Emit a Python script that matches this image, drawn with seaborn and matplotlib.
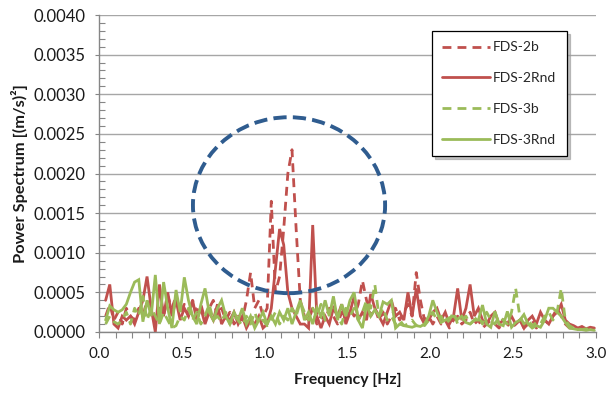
import numpy as np
import pandas as pd
import matplotlib
matplotlib.use("Agg")
import matplotlib.pyplot as plt
from matplotlib.patches import Ellipse
from matplotlib.ticker import MultipleLocator, FormatStrFormatter
import seaborn as sns

# ---------------- data (power spectrum values in units of 1e-4 (m/s)^2) ----------------
freq_start, freq_step, n_bins = 0.04, 0.025, 119
frequency = np.round(freq_start + freq_step * np.arange(n_bins), 3)

fds_2b = [
    2, 3.5, 1.5, 2.5, 1, 3, 2, 1.5, 3, 2,
    4, 2.5, 1.5, 3, 2, 4.5, 3, 4.5, 2.5, 3.5,
    2, 4, 2.5, 3.5, 1.5, 3, 4, 2, 3, 1.5,
    2.5, 1, 2, 1.5, 4, 7.5, 3, 4, 2, 3,
    16.5, 5, 7, 13, 20, 23, 13, 4, 2, 1.5,
    3, 1, 2, 1.5, 3, 2, 1, 2.5, 1.5, 3,
    2, 3.5, 6.5, 4, 2, 3, 1.5, 2.5, 1, 2,
    3, 1.5, 2.5, 3.5, 2, 7.5, 4, 1.5, 2, 1,
    2, 1, 1.5, 0.5, 1.5, 2, 1, 1.5, 2.5, 1,
    1.5, 0.5, 1, 1.5, 1, 0.5, 1.5, 1, 0.5, 1,
    1.5, 0.5, 1, 1.5, 0.5, 1, 1.5, 1, 2, 3,
    2, 1, 0.5, 0.5, 0.3, 0.5, 0.3, 0.4, 0.3,
]
fds_2rnd = [
    4, 6, 1, 0.5, 2, 1.5, 2, 1, 2.5, 4,
    7, 3, 0, 6, 2, 5, 2, 4, 1.5, 3,
    2, 4, 1.5, 3, 1, 2.5, 1.5, 3.5, 1, 2,
    1.5, 2.5, 1, 2, 0.5, 1.5, 1, 2, 0.5, 1,
    3, 8, 13, 11, 5, 3, 2, 1, 1, 0.5,
    13.5, 2, 0.5, 2, 1, 3, 2, 3.5, 1, 2.5,
    4.5, 1.5, 2.5, 1.5, 4.8, 3, 2, 1, 2.5, 4,
    2, 2.5, 1.5, 5, 2, 5.5, 2, 1, 1.5, 2.5,
    3, 1.5, 2.5, 1, 2, 5.5, 1.5, 3, 6, 2,
    3, 1.5, 1, 2, 2.5, 1, 1.5, 1, 2, 1,
    1.5, 0.5, 1.5, 2, 1, 2.5, 1.5, 1, 2, 2.5,
    3.5, 1.5, 1, 0.8, 0.5, 0.7, 0.4, 0.6, 0.5,
]
fds_3b = [
    1, 2, 1.3, 1, 1.5, 2.5, 1, 3, 2, 4.5,
    1.5, 3, 2, 1, 2.5, 1.5, 0.5, 0.8, 2, 1.5,
    3, 1.5, 2.5, 1, 2, 3.5, 1.5, 2, 1.3, 2.5,
    1, 2, 1.5, 0.8, 2, 1, 2.5, 1, 1.5, 0.8,
    1.5, 2.5, 1, 2, 1.5, 3, 2, 3.8, 2.5, 1.5,
    3, 2, 3.5, 1.5, 2.5, 3.5, 2, 1, 3, 2,
    3, 1.5, 2.5, 4, 3, 6, 2, 3, 1.5, 2,
    1, 1.5, 0.8, 1, 1.5, 0.8, 1.2, 0.8, 1.5, 2.5,
    1.5, 2, 1, 1.5, 2.5, 1, 1.5, 2, 1, 1.5,
    2, 1, 2.5, 1.5, 1, 2, 1.5, 1, 2.5, 5.5,
    2, 1, 1.5, 0.8, 1.2, 1, 2, 2.5, 1.5, 2.5,
    5.5, 1.5, 0.8, 0.5, 0.4, 0.3, 0.4, 0.3, 0.3,
]
fds_3rnd = [
    1.5, 3.3, 2.8, 2.5, 2.8, 3.5, 5, 6.3, 6.6, 1.3,
    4, 2, 7.2, 1, 6.3, 3, 0.5, 5.3, 2.5, 6.9,
    4, 2, 1, 3.5, 5.5, 2.5, 1.5, 3, 4, 2,
    1, 2.5, 1.5, 3, 1, 2, 0.5, 1.5, 2.5, 1,
    2, 1, 2.5, 1.5, 3, 1, 2.5, 4, 1.5, 2.5,
    1, 3, 2, 4, 2, 4.5, 1.5, 3.5, 2, 4,
    5, 1.5, 0.5, 3.5, 2, 2.8, 2, 3.8, 3.5, 4,
    0.5, 1, 0.8, 0.7, 0.6, 0.8, 0.7, 1, 2, 4,
    2.5, 1.2, 1.5, 1.8, 2, 1.6, 2, 1.2, 1, 1.5,
    1.5, 3.4, 1, 0.6, 2.6, 1, 0.8, 2.6, 0.6, 1.2,
    1.5, 2.2, 1, 0.5, 0.8, 0.6, 1.5, 3, 3, 2.5,
    2, 1.2, 0.5, 0.4, 0.3, 0.3, 0.2, 0.3, 0.2,
]
value_scale = 1e-4

series_names = ["FDS-2b", "FDS-2Rnd", "FDS-3b", "FDS-3Rnd"]
series_values = [fds_2b, fds_2rnd, fds_3b, fds_3rnd]

x_ticks = [0.0, 0.5, 1.0, 1.5, 2.0, 2.5, 3.0]
y_ticks = [0.0, 0.0005, 0.0010, 0.0015, 0.0020, 0.0025, 0.0030, 0.0035, 0.0040]

# ---------------- style ----------------
sns.set_theme(style="white")
plt.rcParams["font.family"] = ["Lato", "DejaVu Sans"]

RED = "#C0504D"
GREEN = "#9BBB59"
BLUE = "#2F5C8F"
styles = {
    "FDS-2b": (RED, (0, (3.2, 2.2))),
    "FDS-2Rnd": (RED, "-"),
    "FDS-3b": (GREEN, (0, (3.2, 2.2))),
    "FDS-3Rnd": (GREEN, "-"),
}

fig = plt.figure(figsize=(6.06, 3.96), dpi=100)
ax = fig.add_axes([99 / 606, 1 - 332 / 396, 497 / 606, 317 / 396])

for name, vals in zip(series_names, series_values):
    df = pd.DataFrame({"f": frequency, "p": np.asarray(vals, dtype=float) * value_scale})
    color, ls = styles[name]
    sns.lineplot(data=df, x="f", y="p", ax=ax, color=color, linestyle=ls,
                 linewidth=2.0, label=name, estimator=None, sort=False,
                 solid_joinstyle="miter")

# highlight ellipse (annotation)
ell = Ellipse((1.147, 0.0016), 1.16, 0.00222, fill=False, edgecolor=BLUE,
              linewidth=2.8, linestyle=(0, (3.4, 1.6)), zorder=5)
ax.add_patch(ell)

ax.set_xlim(0, 3.0)
ax.set_ylim(0, 0.0040)
ax.set_xticks(x_ticks)
ax.set_yticks(y_ticks)
ax.xaxis.set_minor_locator(MultipleLocator(0.1))
ax.yaxis.set_minor_locator(MultipleLocator(0.0001))
ax.xaxis.set_major_formatter(FormatStrFormatter("%.1f"))
ax.yaxis.set_major_formatter(FormatStrFormatter("%.4f"))

ax.grid(True, which="major", axis="y", color="#A6A6A6", linewidth=1.0)
ax.set_axisbelow(True)
for s in ["top", "right"]:
    ax.spines[s].set_visible(False)
for s in ["left", "bottom"]:
    ax.spines[s].set_color("#868686")
    ax.spines[s].set_linewidth(1.0)

ax.tick_params(axis="x", which="both", direction="out", length=4, width=0.8,
               color="#868686", bottom=True, labelsize=11, labelcolor="#1a1a1a", pad=7)
ax.tick_params(axis="y", which="major", direction="out", length=3, width=0.8,
               color="#868686", left=True, labelsize=12, labelcolor="#1a1a1a", pad=7)
ax.tick_params(axis="y", which="minor", direction="in", length=4, width=0.8,
               color="#868686", left=True)

ax.set_xlabel("Frequency [Hz]", fontsize=11.3, fontweight="bold", labelpad=8, color="#1a1a1a")
ax.set_ylabel("Power Spectrum [(m/s)\u00b2]", fontsize=11.8, fontweight="bold", labelpad=4,
              color="#1a1a1a")

leg = ax.legend(loc="upper left", bbox_to_anchor=(432 / 606, 1 - 31 / 396),
                bbox_transform=fig.transFigure, borderaxespad=0, frameon=True,
                fancybox=False, shadow={"color": "#9a9a9a", "alpha": 0.6},
                edgecolor="black", facecolor="white", fontsize=10,
                handlelength=3.4, handletextpad=0.25, labelspacing=1.35,
                borderpad=0.75)
leg.get_frame().set_linewidth(0.9)

fig.savefig("out.png", dpi=100)
